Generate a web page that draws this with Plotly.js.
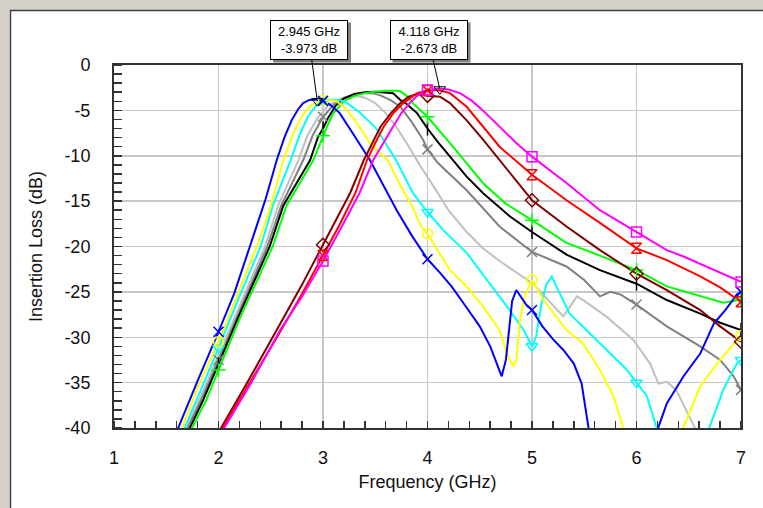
<!DOCTYPE html>
<html>
<head>
<meta charset="utf-8">
<script src="https://cdn.plot.ly/plotly-3.0.1.min.js"></script>
<style>html,body{margin:0;padding:0;background:#fff;}#chart{width:763px;height:508px;}</style>
</head>
<body>
<div id="chart"></div>
<script>
// ---- data ----
const fBlue  = [1.40,1.615,1.80,2.00,2.15,2.30,2.45,2.557,2.63,2.70,2.76,2.81,2.87,2.945,3.00,3.06,3.16,3.30,3.45,3.58,3.705,3.85,4.00,4.12,4.23,4.36,4.50,4.60,4.67,4.71,4.75,4.78,4.81,4.85,4.90,4.95,5.00,5.10,5.20,5.30,5.40,5.475,5.54,5.65,5.90,6.10,6.21,6.29,6.45,6.61,6.74,6.85,6.96,7.00];
const dBlue  = [-46,-39.9,-34.8,-29.4,-25.2,-20.0,-14.8,-10.5,-8.0,-6.1,-4.9,-4.2,-3.85,-3.8,-3.95,-4.3,-5.3,-7.8,-10.5,-13.3,-16.0,-18.8,-21.4,-22.9,-24.4,-26.5,-28.8,-31.0,-33.0,-34.3,-32.5,-29.0,-26.0,-24.8,-25.6,-26.5,-27.0,-28.8,-30.2,-31.4,-32.9,-35.1,-39.9,-48,-55,-48,-39.9,-37.3,-34.3,-31.8,-28.5,-27.0,-25.3,-25.0];

const fYellow = [1.40,1.65,1.80,2.00,2.20,2.366,2.48,2.62,2.72,2.80,2.88,2.95,3.00,3.07,3.13,3.20,3.30,3.45,3.62,3.75,3.85,3.94,4.00,4.10,4.215,4.375,4.53,4.69,4.76,4.82,4.85,4.885,4.93,5.00,5.11,5.33,5.49,5.65,5.78,5.87,6.00,6.20,6.35,6.45,6.61,6.80,6.96,7.00];
const dYellow = [-47.5,-39.9,-35.5,-30.5,-24.8,-20.0,-16.3,-10.5,-7.4,-5.6,-4.5,-4.05,-3.9,-3.85,-4.0,-4.6,-6.0,-8.6,-10.5,-13.5,-15.5,-17.8,-18.6,-20.5,-22.6,-24.4,-26.6,-29.2,-31.8,-33.2,-32.5,-28.1,-25.5,-23.7,-25.9,-29.2,-30.7,-33.6,-36.5,-39.9,-44,-48,-44,-39.9,-35.4,-32.5,-30.3,-29.8];

const fCyan = [1.40,1.68,1.85,2.00,2.20,2.404,2.52,2.69,2.78,2.86,2.94,3.00,3.08,3.15,3.22,3.35,3.51,3.70,3.86,4.00,4.15,4.375,4.57,4.76,4.92,5.00,5.04,5.09,5.14,5.19,5.25,5.36,5.52,5.71,5.90,6.00,6.10,6.19,6.35,6.55,6.70,6.83,6.96,7.00];
const dCyan = [-48.5,-39.9,-35.3,-31.2,-25.5,-20.0,-15.5,-10.5,-7.6,-5.6,-4.4,-4.0,-3.8,-3.85,-4.1,-5.2,-7.0,-10.5,-14.1,-16.2,-18.2,-20.7,-23.7,-26.6,-29.2,-31.0,-29.9,-26.3,-24.1,-23.3,-24.8,-27.4,-29.2,-31.4,-33.5,-35.0,-36.5,-39.9,-46,-46,-39.9,-35.8,-32.9,-32.5];

const fLGrey = [1.40,1.70,1.85,2.00,2.20,2.445,2.57,2.764,2.85,2.95,3.05,3.15,3.25,3.33,3.40,3.50,3.60,3.70,3.80,3.93,4.06,4.20,4.375,4.53,4.69,5.01,5.30,5.43,5.50,5.71,5.97,6.13,6.21,6.29,6.38,6.51,6.58,6.75,7.00];
const dLGrey = [-49,-39.9,-36,-32.0,-26.5,-20.0,-15.5,-10.5,-7.8,-5.8,-4.5,-3.8,-3.5,-3.45,-3.6,-4.2,-5.3,-6.8,-8.6,-11.1,-13.4,-16.0,-18.4,-20.2,-21.6,-24.1,-27.7,-25.5,-26.0,-27.7,-30.3,-32.9,-35.1,-34.9,-35.8,-38.8,-40.5,-44,-46];

const fGrey = [1.40,1.71,1.85,2.00,2.20,2.467,2.60,2.81,2.90,3.00,3.10,3.20,3.30,3.40,3.48,3.56,3.65,3.74,3.85,3.96,4.00,4.10,4.375,4.69,5.00,5.33,5.50,5.65,5.75,5.85,6.00,6.29,6.61,6.80,6.93,7.00];
const dGrey = [-49.5,-39.9,-36.5,-32.5,-27.0,-20.0,-15.5,-10.5,-7.8,-5.7,-4.4,-3.6,-3.25,-3.1,-3.1,-3.4,-3.9,-4.6,-6.3,-8.3,-9.3,-10.8,-13.8,-17.8,-20.6,-22.2,-23.7,-25.5,-25.0,-25.3,-26.4,-28.8,-31.0,-32.5,-34.3,-35.8];

const fBlack = [1.40,1.73,1.85,2.00,2.20,2.49,2.62,2.876,2.95,3.00,3.05,3.12,3.20,3.30,3.40,3.50,3.60,3.67,3.74,3.80,3.90,4.00,4.10,4.215,4.375,4.53,4.79,5.00,5.33,5.65,6.00,6.29,6.61,6.80,7.00];
const dBlack = [-50,-39.9,-37,-33.0,-27.5,-20.0,-15.5,-10.5,-8.0,-7.0,-5.8,-4.5,-3.7,-3.2,-3.0,-2.95,-3.0,-3.1,-3.86,-4.3,-5.3,-7.0,-8.5,-10.1,-12.3,-14.1,-16.7,-18.4,-20.9,-22.6,-24.1,-25.9,-27.4,-28.4,-29.2];

const fGreen = [1.40,1.75,1.88,2.00,2.20,2.519,2.65,2.907,3.00,3.05,3.10,3.20,3.30,3.40,3.50,3.60,3.70,3.74,3.80,3.86,4.00,4.215,4.53,4.75,5.00,5.14,5.33,5.65,6.00,6.29,6.61,6.83,6.93,7.00];
const dGreen = [-50.5,-39.9,-37,-33.6,-28.0,-20.0,-15.5,-10.5,-7.8,-6.5,-5.3,-4.0,-3.4,-3.1,-2.95,-2.85,-2.85,-2.9,-3.4,-4.2,-5.7,-8.6,-13.0,-15.3,-17.1,-18.2,-19.6,-21.0,-22.6,-24.4,-25.5,-26.2,-26.0,-25.8];

const fDarkRed = [1.50,2.03,2.30,2.56,2.80,3.00,3.13,3.26,3.39,3.47,3.55,3.65,3.74,3.82,3.90,4.00,4.12,4.215,4.375,4.53,4.69,4.85,5.00,5.33,5.65,6.00,6.29,6.61,6.80,7.00];
const dDarkRed = [-52,-39.9,-34.5,-29.2,-24.2,-19.8,-17.0,-14.1,-10.5,-8.6,-6.8,-5.3,-4.2,-3.5,-3.2,-3.4,-3.5,-4.2,-6.1,-8.2,-10.5,-12.8,-14.9,-17.8,-20.4,-23.0,-24.8,-27.0,-28.8,-30.5];

const fRed = [1.50,2.046,2.30,2.56,2.80,3.00,3.15,3.31,3.42,3.50,3.58,3.68,3.77,3.90,4.00,4.10,4.215,4.375,4.53,4.69,5.00,5.33,5.65,6.00,6.29,6.61,6.80,7.00];
const dRed = [-52.5,-39.9,-35.0,-30.0,-25.2,-21.0,-17.8,-14.1,-10.5,-8.6,-6.8,-5.2,-4.2,-3.1,-2.8,-2.75,-3.1,-4.6,-6.8,-9.0,-12.1,-14.9,-17.4,-20.2,-21.5,-23.3,-24.5,-26.1];

const fMagenta = [1.50,2.06,2.30,2.59,2.80,3.00,3.18,3.35,3.48,3.58,3.67,3.75,3.83,3.90,4.00,4.118,4.20,4.31,4.42,4.53,4.69,4.85,5.00,5.33,5.65,6.00,6.29,6.45,6.61,6.80,7.00];
const dMagenta = [-53,-39.9,-35.3,-29.2,-25.5,-21.6,-17.8,-14.1,-10.5,-8.5,-6.8,-5.3,-4.2,-3.4,-2.75,-2.6,-2.7,-3.1,-3.9,-5.0,-6.8,-8.6,-10.1,-13.0,-16.0,-18.4,-20.4,-21.1,-21.9,-22.9,-23.9];

// readout markers
const readFreq = [2.945, 4.118];
const readDb   = [-3.973, -2.673];
const readText = ['2.945 GHz<br>-3.973 dB', '4.118 GHz<br>-2.673 dB'];

// axis ticks and titles
const xTickVals = [1, 2, 3, 4, 5, 6, 7];
const xTickText = ['1', '2', '3', '4', '5', '6', '7'];
const yTickVals = [0, -5, -10, -15, -20, -25, -30, -35, -40];
const yTickText = ['0', '-5', '-10', '-15', '-20', '-25', '-30', '-35', '-40'];
const xTitle = 'Frequency (GHz)';
const yTitle = 'Insertion Loss (dB)';

// ---- styling ----
const series = [
  {f: fLGrey,   d: dLGrey,   color: '#c0c0c0', symbol: null},
  {f: fGrey,    d: dGrey,    color: '#808080', symbol: 'x-thin'},
  {f: fBlack,   d: dBlack,   color: '#000000', symbol: 'line-ns'},
  {f: fGreen,   d: dGreen,   color: '#00ff00', symbol: 'cross-thin'},
  {f: fCyan,    d: dCyan,    color: '#00ffff', symbol: 'triangle-down-open'},
  {f: fYellow,  d: dYellow,  color: '#ffff00', symbol: 'circle-open'},
  {f: fBlue,    d: dBlue,    color: '#0000ff', symbol: 'x-thin'},
  {f: fDarkRed, d: dDarkRed, color: '#800000', symbol: 'diamond-open'},
  {f: fRed,     d: dRed,     color: '#ff0000', symbol: 'hourglass-open'},
  {f: fMagenta, d: dMagenta, color: '#ff00ff', symbol: 'square-open'}
];

const traces = [];
series.forEach(s => {
  traces.push({x: s.f, y: s.d, mode: 'lines', line: {color: s.color, width: 2}, hoverinfo: 'skip', showlegend: false});
});
series.forEach(s => {
  if (!s.symbol) return;
  const mx = [], my = [];
  s.f.forEach((f, i) => { if (Math.abs(f - Math.round(f)) < 1e-9 && f >= 2) { mx.push(f); my.push(s.d[i]); } });
  traces.push({x: mx, y: my, mode: 'markers', showlegend: false, hoverinfo: 'skip',
    marker: {symbol: s.symbol, size: 10, color: s.color, line: {color: s.color, width: 1.5}}});
});
traces.push({x: readFreq, y: readDb, mode: 'markers', showlegend: false, hoverinfo: 'skip',
  marker: {symbol: 'triangle-down-open', size: 10, color: '#000', line: {color: '#000', width: 1}}});

// plot-area pixel geometry and pixel -> paper / data helpers (layout only)
const L = 114, R = 741, T = 65, B = 428;
const px = v => (v - L) / (R - L);
const py = v => (B - v) / (B - T);
const pxToX = v => 1 + (v - L) / (R - L) * 6;
const pyToY = v => -(v - T) / (B - T) * 40;

// readout box centres (pixels) and half sizes
const boxCentres = [[309, 39.5], [428.5, 39.5]];
const bw = 39, bh = 20, sh = 3;

const shapes = [
  {type: 'rect', xref: 'paper', yref: 'paper', x0: px(0), x1: px(763), y0: py(10), y1: py(0), fillcolor: '#d4d0c8', line: {width: 0}},
  {type: 'rect', xref: 'paper', yref: 'paper', x0: px(0), x1: px(9.5), y0: py(508), y1: py(0), fillcolor: '#d4d0c8', line: {width: 0}},
  {type: 'line', xref: 'paper', yref: 'paper', x0: px(10), x1: px(763), y0: py(10.5), y1: py(10.5), line: {color: '#404040', width: 1.5}},
  {type: 'line', xref: 'paper', yref: 'paper', x0: px(10.5), x1: px(10.5), y0: py(10), y1: py(508), line: {color: '#404040', width: 1.5}}
];
boxCentres.forEach(c => {
  shapes.push({type: 'rect', xref: 'paper', yref: 'paper', layer: 'above',
    x0: px(c[0] - bw + sh), x1: px(c[0] + bw + sh), y0: py(c[1] + bh + sh), y1: py(c[1] - bh + sh),
    fillcolor: '#808080', line: {width: 0}});
});

const fontFam = 'Liberation Sans, Arial, sans-serif';
const annotations = readFreq.map((f, i) => ({
  x: f, y: readDb[i], xref: 'x', yref: 'y', text: readText[i], showarrow: true,
  axref: 'x', ayref: 'y', ax: pxToX(boxCentres[i][0]), ay: pyToY(boxCentres[i][1]),
  arrowcolor: '#000', arrowwidth: 1, arrowhead: 0, standoff: 0,
  bgcolor: '#ffffff', bordercolor: '#000', borderwidth: 1, borderpad: 1,
  width: 74, height: 36, font: {family: fontFam, size: 13, color: '#000'}
}));

const layout = {
  width: 763, height: 508,
  margin: {l: L, r: 763 - R, t: T, b: 508 - B, pad: 0},
  paper_bgcolor: '#ffffff', plot_bgcolor: '#ffffff',
  font: {family: fontFam, size: 18, color: '#111'},
  showlegend: false,
  xaxis: {
    range: [1, 7], tickmode: 'array', tickvals: xTickVals, ticktext: xTickText,
    showgrid: true, gridcolor: '#c8c8c8', gridwidth: 1.5, zeroline: false,
    showline: true, mirror: true, linecolor: '#333', linewidth: 2,
    ticks: '', ticklabelstandoff: 12, tickfont: {family: fontFam, size: 18, color: '#111'},
    minor: {dtick: 0.2, tick0: 1, ticks: 'inside', ticklen: 7, tickwidth: 1.5, tickcolor: '#333', showgrid: false},
    title: {text: xTitle, font: {family: fontFam, size: 18, color: '#111'}, standoff: 9}
  },
  yaxis: {
    range: [-40, 0], tickmode: 'array', tickvals: yTickVals, ticktext: yTickText,
    showgrid: true, gridcolor: '#c8c8c8', gridwidth: 1.5, zeroline: false,
    showline: true, mirror: true, linecolor: '#333', linewidth: 2,
    ticks: '', ticklabelstandoff: 18, tickfont: {family: fontFam, size: 18, color: '#111'},
    minor: {dtick: 1, tick0: 0, ticks: 'inside', ticklen: 8, tickwidth: 1.5, tickcolor: '#333', showgrid: false},
    title: {text: yTitle, font: {family: fontFam, size: 18, color: '#111'}, standoff: 17}
  },
  shapes: shapes,
  annotations: annotations
};

Plotly.newPlot('chart', traces, layout, {staticPlot: true, displayModeBar: false});
</script>
</body>
</html>
